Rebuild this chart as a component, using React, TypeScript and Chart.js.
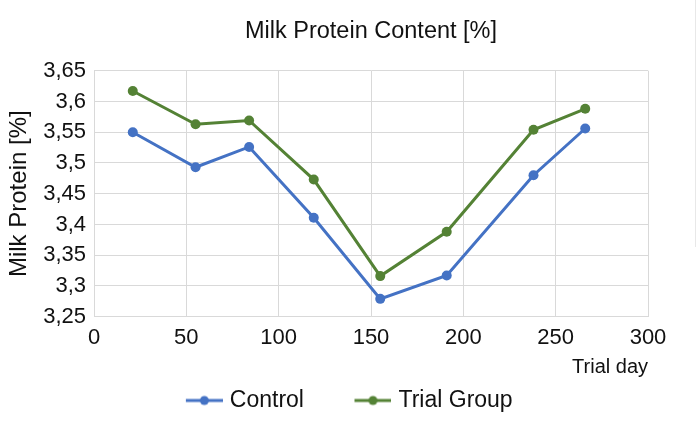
import React, { useEffect, useRef } from 'react';
import { Chart, registerables } from 'chart.js';

Chart.register(...registerables);

const TITLE = 'Milk Protein Content [%]';
const Y_TITLE = 'Milk Protein [%]';
const X_TITLE = 'Trial day';
const SERIES_NAMES = ['Control', 'Trial Group'];
const DAYS = [21, 55, 84, 119, 155, 191, 238, 266];
const CONTROL = [3.55, 3.493, 3.526, 3.411, 3.279, 3.317, 3.48, 3.556];
const TRIAL = [3.617, 3.563, 3.569, 3.473, 3.316, 3.388, 3.554, 3.588];
const X_TICKS = [0, 50, 100, 150, 200, 250, 300];
const Y_TICKS = [3.25, 3.3, 3.35, 3.4, 3.45, 3.5, 3.55, 3.6, 3.65];
const COLORS = ['#4472C4', '#548235'];

const FONT = "'Liberation Sans', Arial, Helvetica, sans-serif";
const TEXT = '#111111';
const GRID = '#d9d9d9';

function legendImage(color: string): HTMLCanvasElement {
  const c = document.createElement('canvas');
  c.width = 92;
  c.height = 12;
  const ctx = c.getContext('2d')!;
  ctx.strokeStyle = color;
  ctx.lineWidth = 3;
  ctx.beginPath();
  ctx.moveTo(55, 6);
  ctx.lineTo(92, 6);
  ctx.stroke();
  ctx.fillStyle = color;
  ctx.beginPath();
  ctx.arc(73.5, 6, 4.5, 0, Math.PI * 2);
  ctx.fill();
  return c;
}

const fmt = (v: number) => String(Math.round(v * 100) / 100).replace('.', ',');

export default function App() {
  const ref = useRef<HTMLCanvasElement | null>(null);

  useEffect(() => {
    if (!ref.current) return;
    Chart.defaults.font.family = FONT;
    const series = [CONTROL, TRIAL];
    const images = COLORS.map(legendImage);
    const chart = new Chart(ref.current, {
      type: 'line',
      data: {
        datasets: series.map((vals, i) => ({
          label: SERIES_NAMES[i],
          data: DAYS.map((d, j) => ({ x: d, y: vals[j] })),
          borderColor: COLORS[i],
          backgroundColor: COLORS[i],
          pointBackgroundColor: COLORS[i],
          pointBorderColor: COLORS[i],
          pointBorderWidth: 0,
          pointRadius: 5,
          borderWidth: 3,
          tension: 0,
          fill: false,
        })),
      },
      options: {
        animation: false,
        responsive: false,
        layout: { padding: { left: 0, right: 48, top: 0, bottom: 11 } },
        plugins: {
          title: {
            display: true,
            text: TITLE,
            fullSize: false,
            color: TEXT,
            font: { size: 23.5, weight: 'normal' },
            padding: { top: 17.6, bottom: 24.9 },
          },
          legend: {
            position: 'bottom',
            labels: {
              usePointStyle: true,
              pointStyleWidth: 83,
              padding: 0,
              color: TEXT,
              font: { size: 23 },
              generateLabels: () =>
                SERIES_NAMES.map((name, i) => ({
                  text: name,
                  fillStyle: COLORS[i],
                  strokeStyle: COLORS[i],
                  lineWidth: 0,
                  pointStyle: images[i] as any,
                  datasetIndex: i,
                  hidden: false,
                  fontColor: TEXT,
                })),
            },
          },
          tooltip: { enabled: false },
        },
        scales: {
          x: {
            type: 'linear',
            min: 0,
            max: 300,
            afterBuildTicks: (s: any) => {
              s.ticks = X_TICKS.map((value) => ({ value }));
            },
            afterFit: (s: any) => {
              s.height = 72.3;
            },
            grid: { color: GRID, lineWidth: 1, drawTicks: false },
            border: { color: GRID, width: 1 },
            ticks: {
              color: TEXT,
              font: { size: 22 },
              padding: 8,
              maxRotation: 0,
              callback: (v: any) => String(v),
            },
            title: {
              display: true,
              text: X_TITLE,
              align: 'end',
              color: TEXT,
              font: { size: 20 },
              padding: { top: 0, bottom: 10 },
            },
          },
          y: {
            type: 'linear',
            min: 3.25,
            max: 3.65,
            afterBuildTicks: (s: any) => {
              s.ticks = Y_TICKS.map((value) => ({ value }));
            },
            afterFit: (s: any) => {
              s.width = 94;
            },
            grid: { color: GRID, lineWidth: 1, drawTicks: false },
            border: { color: GRID, width: 1 },
            ticks: {
              color: TEXT,
              font: { size: 22 },
              padding: 8,
              callback: (v: any) => fmt(Number(v)),
            },
            title: {
              display: true,
              text: Y_TITLE,
              color: TEXT,
              font: { size: 24 },
              padding: { top: 4.6, bottom: 0 },
            },
          },
        },
      },
    });
    return () => chart.destroy();
  }, []);

  return (
    <div style={{ position: 'absolute', left: 0, top: 0, width: 696, height: 433, background: '#fff' }}>
      <canvas ref={ref} width={696} height={433} style={{ display: 'block', width: 696, height: 433 }} />
      <div style={{ position: 'absolute', left: 695, top: 0, width: 1, height: 247, background: '#e8e8e8' }} />
    </div>
  );
}
